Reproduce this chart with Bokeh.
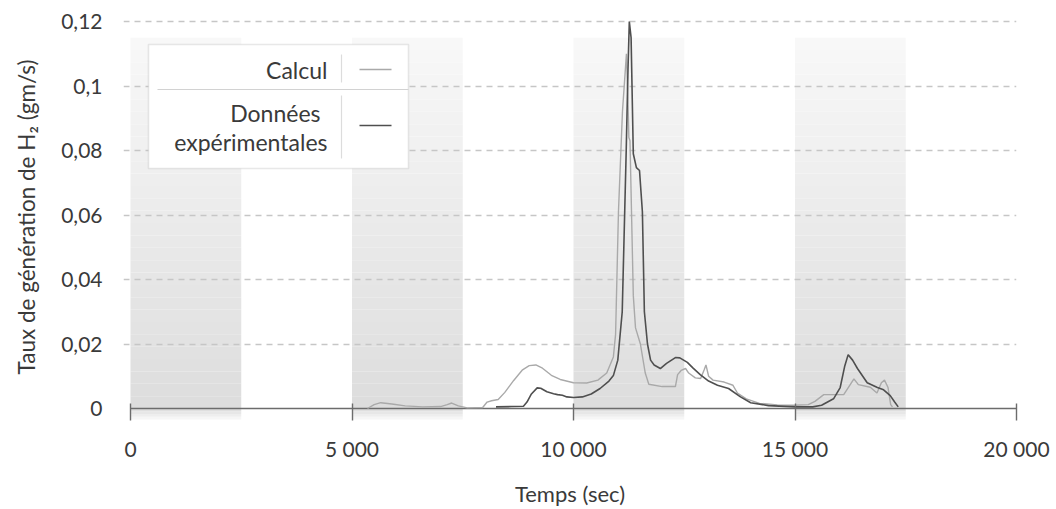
import numpy as np
from bokeh.plotting import figure
from bokeh.models import Range1d, FixedTicker, BoxAnnotation, Label
from bokeh.embed import file_html
from bokeh.resources import INLINE

FONT = "Lato"
TEXT = "#3a3a3a"

# ---------------- data ----------------
calc_t = [5350, 5500, 5650, 5900, 6200, 6600, 7000, 7150, 7250, 7400, 7600, 7950,
          8050, 8150, 8300, 8450, 8650, 8850, 9000, 9150, 9300, 9500, 9700, 10000,
          10300, 10550, 10750, 10900, 10950, 11015, 11105, 11195, 11230, 11250,
          11275, 11350, 11400, 11510, 11620, 11700, 12000, 12300, 12350, 12430,
          12530, 12600, 12750, 12870, 12950, 12990, 13050, 13150, 13400, 13600,
          13700, 13900, 14200, 14600, 15000, 15300, 15450, 15650, 16100, 16250,
          16330, 16430, 16700, 16850, 16950, 17020, 17100, 17160, 17200]
calc_v = [0.0, 0.0012, 0.0018, 0.0014, 0.0008, 0.0005, 0.0006, 0.0012, 0.0017, 0.0008,
          0.0002, 0.0003, 0.0020, 0.0024, 0.0028, 0.0050, 0.0087, 0.0120, 0.0133,
          0.0135, 0.0125, 0.0103, 0.0090, 0.0080, 0.0079, 0.0088, 0.0110, 0.0160,
          0.0230, 0.0610, 0.0920, 0.1100, 0.0950, 0.0840, 0.0830, 0.0350, 0.0250,
          0.0200, 0.0110, 0.0075, 0.0068, 0.0068, 0.0105, 0.0118, 0.0124, 0.0110,
          0.0095, 0.0093, 0.0120, 0.0135, 0.0100, 0.0088, 0.0082, 0.0072, 0.0048,
          0.0030, 0.0016, 0.0011, 0.0010, 0.0012, 0.0022, 0.0043, 0.0043, 0.0075,
          0.0092, 0.0074, 0.0066, 0.0048, 0.0080, 0.0088, 0.0065, 0.0012, 0.0005]

exp_t = [8250, 8600, 8870, 8950, 9050, 9180, 9260, 9400, 9550, 9640, 9750, 9850,
         10000, 10200, 10400, 10600, 10800, 10900, 11000, 11100, 11190, 11230,
         11260, 11300, 11350, 11420, 11490, 11555, 11600, 11670, 11740, 11820,
         11960, 12100, 12300, 12400, 12570, 12700, 12860, 13050, 13250, 13500,
         13770, 14000, 14400, 15000, 15400, 15600, 15870, 16020, 16120, 16200,
         16300, 16410, 16630, 16860, 17000, 17150, 17250, 17330]
exp_v = [0.0005, 0.0006, 0.0007, 0.0020, 0.0045, 0.0064, 0.0063, 0.0052, 0.0046,
         0.0043, 0.0041, 0.0036, 0.0034, 0.0036, 0.0045, 0.0062, 0.0085, 0.0102,
         0.0150, 0.0300, 0.0800, 0.1050, 0.1200, 0.1150, 0.0790, 0.0747, 0.0738,
         0.0610, 0.0300, 0.0200, 0.0150, 0.0135, 0.0124, 0.0140, 0.0158, 0.0157,
         0.0143, 0.0125, 0.0105, 0.0085, 0.0072, 0.0062, 0.0036, 0.0018, 0.0009,
         0.0005, 0.0005, 0.0010, 0.0030, 0.0065, 0.0130, 0.0167, 0.0150, 0.0124,
         0.0080, 0.0065, 0.0058, 0.0040, 0.0020, 0.0005]

band_starts = [0, 5000, 10000, 15000]
band_width = 2500
band_top = 0.115

x_ticks = [0, 5000, 10000, 15000, 20000]
x_tick_labels = ["0", "5 000", "10 000", "15 000", "20 000"]
y_ticks = [0, 0.02, 0.04, 0.06, 0.08, 0.10, 0.12]
y_tick_labels = ["0", "0,02", "0,04", "0,06", "0,08", "0,1", "0,12"]

series_names = ["Calcul", "Données expérimentales"]
series_colors = ["#a9a9a9", "#4f4f4f"]
x_title = "Temps (sec)"
y_title = "Taux de génération de H₂ (gm/s)"

# ---------------- layout helpers (reference image px -> data) ----------------
X0_PX, X1_PX = 130, 1016
Y0_PX, Y1_PX = 408, 21


def dx(px):
    return (px - X0_PX) * 20000 / (X1_PX - X0_PX)


def dy(py):
    return (Y0_PX - py) * 0.12 / (Y0_PX - Y1_PX)


W, H = 1052, 509
FL, FR, FT, FB = 123, 1016, 13, 420
p = figure(width=W, height=H, output_backend="svg", toolbar_location=None,
           x_range=Range1d(dx(FL), dx(FR)), y_range=Range1d(dy(FB), dy(FT)),
           min_border_left=FL, min_border_right=W - FR, min_border_top=FT,
           min_border_bottom=H - FB)
p.outline_line_color = None
p.background_fill_color = "white"
p.border_fill_color = "white"

# ---------------- shaded bands (vertical gradient) ----------------
n_strips = 30
edges = np.linspace(0, band_top, n_strips + 1)
shade = np.linspace(221, 248, n_strips)
below_edges = np.linspace(dy(419), 0, 5)
below_shade = np.linspace(246, 223, 4)
L, R, B, T, C = [], [], [], [], []
for s in band_starts:
    for i in range(n_strips):
        g = int(round(shade[i]))
        L.append(s); R.append(s + band_width)
        B.append(edges[i]); T.append(edges[i + 1])
        C.append("#%02x%02x%02x" % (g, g, g))
    for i in range(4):
        g = int(round(below_shade[i]))
        L.append(s); R.append(s + band_width)
        B.append(below_edges[i]); T.append(below_edges[i + 1])
        C.append("#%02x%02x%02x" % (g, g, g))
bands = p.quad(left=L, right=R, bottom=B, top=T, fill_color=C, line_color=None)
bands.level = "image"

# ---------------- axis line at y = 0 ----------------
p.segment(x0=[x_ticks[0]], y0=[0], x1=[x_ticks[-1]], y1=[0],
          line_color="#6c6c6c", line_width=1.6)

# ---------------- lines ----------------
p.line(calc_t, calc_v, line_color=series_colors[0], line_width=1.4)
p.line(exp_t, exp_v, line_color=series_colors[1], line_width=1.6)

# ---------------- axes & grid ----------------
xa = p.xaxis[0]
xa.ticker = FixedTicker(ticks=x_ticks)
xa.major_label_overrides = {t: l for t, l in zip(x_ticks, x_tick_labels)}
xa.axis_line_color = None
xa.major_tick_line_color = "#6c6c6c"
xa.major_tick_line_width = 1.4
xa.major_tick_in = 17
xa.major_tick_out = 0
xa.minor_tick_line_color = None
xa.major_label_standoff = 15
xa.major_label_text_font = FONT
xa.major_label_text_font_size = "21px"
xa.major_label_text_color = TEXT
xa.axis_label = x_title
xa.axis_label_text_font = FONT
xa.axis_label_text_font_size = "22px"
xa.axis_label_text_font_style = "normal"
xa.axis_label_text_color = TEXT
xa.axis_label_standoff = 16

ya = p.yaxis[0]
ya.ticker = FixedTicker(ticks=y_ticks)
ya.major_label_overrides = {t: l for t, l in zip(y_ticks, y_tick_labels)}
ya.axis_line_color = None
ya.major_tick_line_color = None
ya.minor_tick_line_color = None
ya.major_label_standoff = 15
ya.major_label_text_font = FONT
ya.major_label_text_font_size = "21px"
ya.major_label_text_color = TEXT
ya.axis_label = y_title
ya.axis_label_text_font = FONT
ya.axis_label_text_font_size = "22.5px"
ya.axis_label_text_font_style = "normal"
ya.axis_label_text_color = TEXT
ya.axis_label_standoff = 18

p.xgrid.visible = False
p.ygrid.ticker = FixedTicker(ticks=y_ticks[1:])
p.ygrid.grid_line_color = "#c6c6c6"
p.ygrid.grid_line_width = 1.3
p.ygrid.grid_line_dash = "6 5"

# ---------------- legend (table style) ----------------
box = BoxAnnotation(left=dx(148), right=dx(408), top=dy(44), bottom=dy(168),
                    fill_color="white", fill_alpha=1.0, line_color="#b4b4b4",
                    line_width=1.6, level="annotation")
p.add_layout(box)

seg_x0 = [dx(157), dx(341), dx(341), dx(359), dx(359)]
seg_x1 = [dx(408), dx(341), dx(341), dx(391), dx(391)]
seg_y0 = [dy(89), dy(54), dy(95), dy(69), dy(125)]
seg_y1 = [dy(89), dy(82), dy(158), dy(69), dy(125)]
seg_c = ["#d2d2d2", "#dcdcdc", "#dcdcdc", series_colors[0], series_colors[1]]
seg_w = [1.2, 1.2, 1.2, 1.4, 1.6]
segs = p.segment(seg_x0, seg_y0, seg_x1, seg_y1, line_color=seg_c, line_width=seg_w)
segs.level = "overlay"

words = series_names[1].split(" ")
for txt, px, py in [(series_names[0], 327, 69), (words[0], 320, 112), (words[1], 327, 141)]:
    p.add_layout(Label(x=dx(px), y=dy(py), text=txt, text_align="right",
                       text_baseline="middle", text_font=FONT,
                       text_font_size="23px", text_color=TEXT, level="overlay"))

open("out.html", "w").write(file_html(p, INLINE))
